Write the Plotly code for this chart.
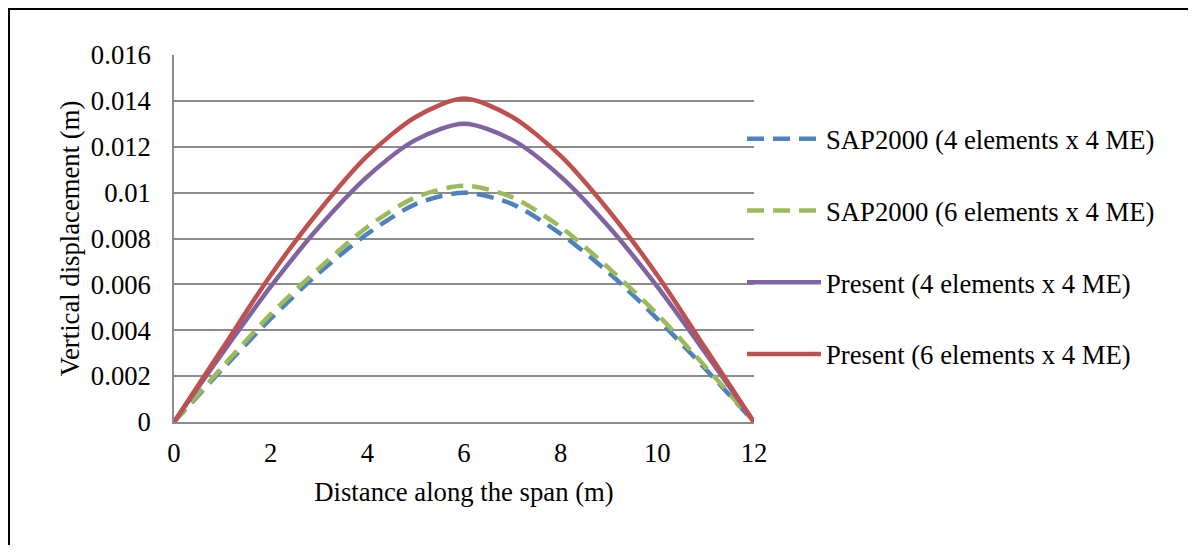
import plotly.graph_objects as go

# ---- data ----
span_m = [0, 1, 2, 3, 4, 5, 6, 7, 8, 9, 10, 11, 12]
sap_4el = [0, 0.0023, 0.0045, 0.0065, 0.0082, 0.0095, 0.0100, 0.0095, 0.0082, 0.0065, 0.0045, 0.0023, 0]
sap_6el = [0, 0.0024, 0.0047, 0.0067, 0.0085, 0.0098, 0.0103, 0.0098, 0.0085, 0.0067, 0.0047, 0.0024, 0]
present_4el = [0, 0.0030, 0.0059, 0.0085, 0.0107, 0.0123, 0.0130, 0.0123, 0.0107, 0.0085, 0.0059, 0.0030, 0]
present_6el = [0, 0.0032, 0.0064, 0.0092, 0.0116, 0.0133, 0.0141, 0.0133, 0.0116, 0.0092, 0.0064, 0.0032, 0]

series_names = ["SAP2000 (4 elements x 4 ME)", "SAP2000 (6 elements x 4 ME)",
                "Present (4 elements x 4 ME)", "Present (6 elements x 4 ME)"]
series_values = [sap_4el, sap_6el, present_4el, present_6el]
series_colors = ["#4F81BD", "#9BBB59", "#8064A2", "#C0504D"]
series_dash = ["dash", "dash", "solid", "solid"]

x_ticks = [0, 2, 4, 6, 8, 10, 12]
y_ticks = [0, 0.002, 0.004, 0.006, 0.008, 0.01, 0.012, 0.014, 0.016]
y_ticklabels = ["0", "0.002", "0.004", "0.006", "0.008", "0.01", "0.012", "0.014", "0.016"]

FONT = "Liberation Serif, Times New Roman, serif"
FS = 26.7

fig = go.Figure()
for i, (name, vals, col, dash) in enumerate(zip(series_names, series_values, series_colors, series_dash)):
    fig.add_trace(go.Scatter(
        x=span_m, y=vals, name=name, mode="lines",
        line=dict(color=col, width=4.5, dash=("17px,9px" if dash == "dash" else "solid"),
                  shape="spline", smoothing=0.8),
        legendgroup=f"g{i}", cliponaxis=False,
    ))

# page body has an 8px margin, so the figure is laid out in its own coordinates
W, H = 1180, 537
L, T = 166, 47
plot_right, plot_bottom = 746, 414
R, B = W - plot_right, H - plot_bottom
pw, ph = plot_right - L, plot_bottom - T

fig.update_layout(
    width=W, height=H,
    margin=dict(l=L, r=R, t=T, b=B, pad=0),
    paper_bgcolor="white", plot_bgcolor="white",
    font=dict(family=FONT, size=FS, color="black"),
    showlegend=True,
    legend=dict(
        x=(734 - L) / pw, xanchor="left",
        y=(plot_bottom - 107) / ph, yanchor="top",
        yref="paper",
        font=dict(family=FONT, size=FS, color="black"),
        tracegroupgap=34, itemwidth=74,
        bgcolor="rgba(0,0,0,0)", borderwidth=0,
    ),
    xaxis=dict(
        range=[0, 12], tickvals=x_ticks, ticktext=[str(v) for v in x_ticks],
        showgrid=False, zeroline=False, showline=True, linecolor="#8c8c8c", linewidth=1.5,
        ticks="", ticklabelstandoff=6,
        title=dict(text="Distance along the span (m)", standoff=16,
                   font=dict(family=FONT, size=FS)),
        tickfont=dict(family=FONT, size=FS),
    ),
    yaxis=dict(
        range=[0, 0.016], tickvals=y_ticks, ticktext=y_ticklabels,
        showgrid=True, gridcolor="#8c8c8c", gridwidth=1.5,
        zeroline=False, showline=True, linecolor="#8c8c8c", linewidth=1.5,
        ticks="", ticklabelstandoff=16,
        title=dict(text="Vertical displacement (m)", standoff=4,
                   font=dict(family=FONT, size=FS)),
        tickfont=dict(family=FONT, size=FS),
    ),
)

# outer chart frame (only top/left edges are visible in the reference)
fig.add_shape(type="rect", xref="paper", yref="paper",
              x0=(1 - L) / pw, x1=(W + 40 - L) / pw,
              y0=(plot_bottom - (H + 40)) / ph, y1=(plot_bottom - 1) / ph,
              line=dict(color="black", width=2), fillcolor="rgba(0,0,0,0)", layer="below")

fig.write_html("out.html")
